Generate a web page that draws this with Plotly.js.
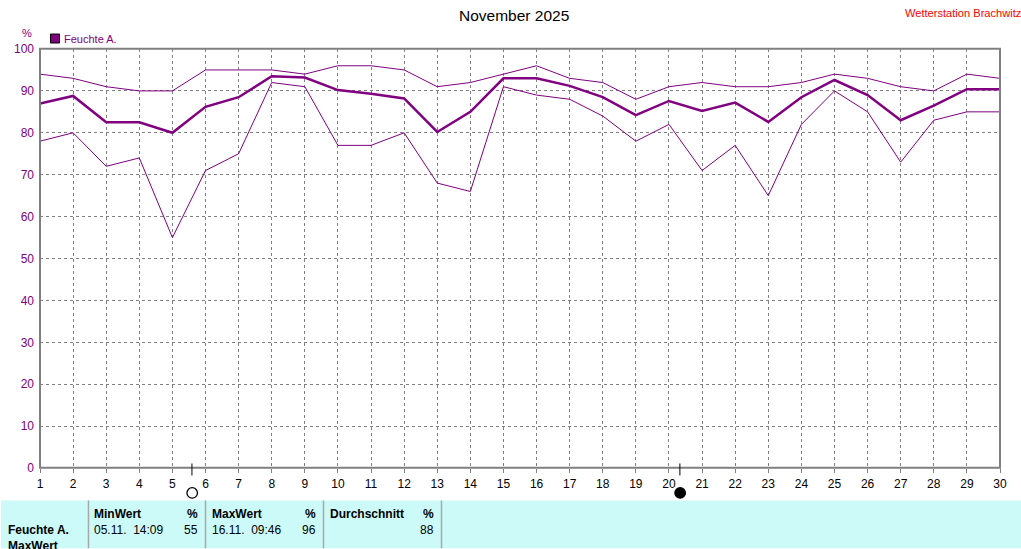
<!DOCTYPE html>
<html><head><meta charset="utf-8">
<script src="https://cdn.plot.ly/plotly-3.0.1.min.js"></script>
<style>html,body{margin:0;padding:0;background:#fff;overflow:hidden}#c{width:1021px;height:549px}</style>
</head><body><div id="c"></div>
<script>
const days = [1,2,3,4,5,6,7,8,9,10,11,12,13,14,15,16,17,18,19,20,21,22,23,24,25,26,27,28,29,30];
const maxValues = [94,93,91,90,90,95,95,95,94,96,96,95,91,92,94,96,93,92,88,91,92,91,91,92,94,93,91,90,94,93];
const minValues = [78,80,72,74,55,71,75,92,91,77,77,80,68,66,91,89,88,84,78,82,71,77,65,82,90,85,73,83,85,85];
const avgValues = [87,88.8,82.5,82.5,80,86.2,88.5,93.5,93.2,90.2,89.3,88.2,80.2,85,93,93,91.2,88.5,84.2,87.6,85.2,87.2,82.6,88.5,92.6,89,83,86.5,90.4,90.4];
const yTicks = [0,10,20,30,40,50,60,70,80,90,100];
const fullMoonDay = 5.59;
const newMoonDay = 20.33;

const PURPLE='#800080', GRAY='#808080', FONT='"Liberation Sans", Arial, sans-serif';
const W=960,H=420,L=40,T=48.5;
const px=x=>(x-L)/W, py=y=>(T+H-y)/H;
const txt=(x,y,text,o={})=>{const a=o.a||'left';return {xref:'paper',yref:'paper',x:px(x+(a==='left'?-2:a==='right'?2:0)),y:py(y),text,showarrow:false,
  xanchor:a,yanchor:'middle',align:a,font:{family:FONT,size:o.s||12,color:o.c||'#000'}}};
const rect=(x0,y0,x1,y1,fill,line)=>({type:'rect',xref:'paper',yref:'paper',x0:px(x0),x1:px(x1),y0:py(y0),y1:py(y1),
  fillcolor:fill,line:line||{width:0},layer:'above'});
const vline=(x,y0,y1,c,w)=>({type:'line',xref:'paper',yref:'paper',x0:px(x),x1:px(x),y0:py(y0),y1:py(y1),line:{color:c,width:w},layer:'above'});
const moonTick=d=>({type:'line',xref:'x',yref:'paper',x0:d,x1:d,y0:py(464),y1:py(476),line:{color:'#000',width:1},layer:'above'});
const moon=(d,fill)=>({type:'circle',xref:'x',yref:'paper',xsizemode:'pixel',xanchor:d,x0:-5,x1:5.5,y0:py(488.2),y1:py(498.7),
  fillcolor:fill,line:{color:'#000',width:1.3},layer:'above'});

const traces=[
 {x:days,y:maxValues,mode:'lines',line:{color:PURPLE,width:1},name:'Max',cliponaxis:false},
 {x:days,y:minValues,mode:'lines',line:{color:PURPLE,width:1},name:'Min',cliponaxis:false},
 {x:days,y:avgValues,mode:'lines',line:{color:PURPLE,width:2.5},name:'Feuchte A.',cliponaxis:false}
];
const shapes=[
 rect(40,48.3,1000,468.3,'rgba(0,0,0,0)',{color:GRAY,width:2}),
 rect(1,501,1021,549,'#CCFAF8'),
 vline(88.5,501,549,'#A8A8A8',1.5),vline(205.5,501,549,'#A8A8A8',1.5),
 vline(323.5,501,549,'#A8A8A8',1.5),vline(441.5,501,549,'#A8A8A8',1.5),
 rect(50.5,33.5,59.5,42.5,PURPLE,{color:'#000',width:1}),
 moonTick(fullMoonDay),moonTick(newMoonDay),
 moon(fullMoonDay,'rgba(255,255,255,0)'),moon(newMoonDay,'#000')
];
const annotations=[
 txt(514,15,'November 2025',{a:'center',s:15.5}),
 txt(1021,12,'Wetterstation Brachwitz',{a:'right',s:11.1,c:'#FF0000'}),
 txt(27,32,'%',{a:'center',s:11,c:PURPLE}),
 txt(64,38,'Feuchte A.',{s:11,c:PURPLE}),
 txt(94,515,'<b>MinWert</b>'),txt(198,515,'<b>%</b>',{a:'right'}),
 txt(212,515,'<b>MaxWert</b>'),txt(316,515,'<b>%</b>',{a:'right'}),
 txt(330,515,'<b>Durchschnitt</b>'),txt(434,515,'<b>%</b>',{a:'right'}),
 txt(8,531,'<b>Feuchte A.</b>'),txt(8,547,'<b>MaxWert</b>'),
 txt(94,531,'05.11.  14:09'),txt(198,531,'55',{a:'right'}),
 txt(212,531,'16.11.  09:46'),txt(316,531,'96',{a:'right'}),
 txt(434,531,'88',{a:'right'})
];
const layout={width:1021,height:549,showlegend:false,paper_bgcolor:'#fff',plot_bgcolor:'#fff',
 margin:{l:L,r:21,t:T,b:80.5,pad:0},font:{family:FONT,size:12},
 xaxis:{range:[1,30],tickmode:'array',tickvals:days,ticktext:days.map(String),ticks:'outside',ticklen:4,tickwidth:1,tickcolor:GRAY,ticklabelstandoff:1,
  tickfont:{family:FONT,size:12,color:'#000'},showgrid:true,gridcolor:GRAY,griddash:'3px,3px',gridwidth:1,
  showline:false,zeroline:false,tickangle:0,automargin:false},
 yaxis:{range:[0,100],tickmode:'array',tickvals:yTicks,ticktext:yTicks.map(String),ticks:'',ticklabelstandoff:5,
  tickfont:{family:FONT,size:12,color:PURPLE},showgrid:true,gridcolor:GRAY,griddash:'3px,3px',gridwidth:1,
  showline:false,zeroline:false,automargin:false},
 shapes,annotations};
Plotly.newPlot('c',traces,layout,{displayModeBar:false,staticPlot:true});
</script></body></html>
